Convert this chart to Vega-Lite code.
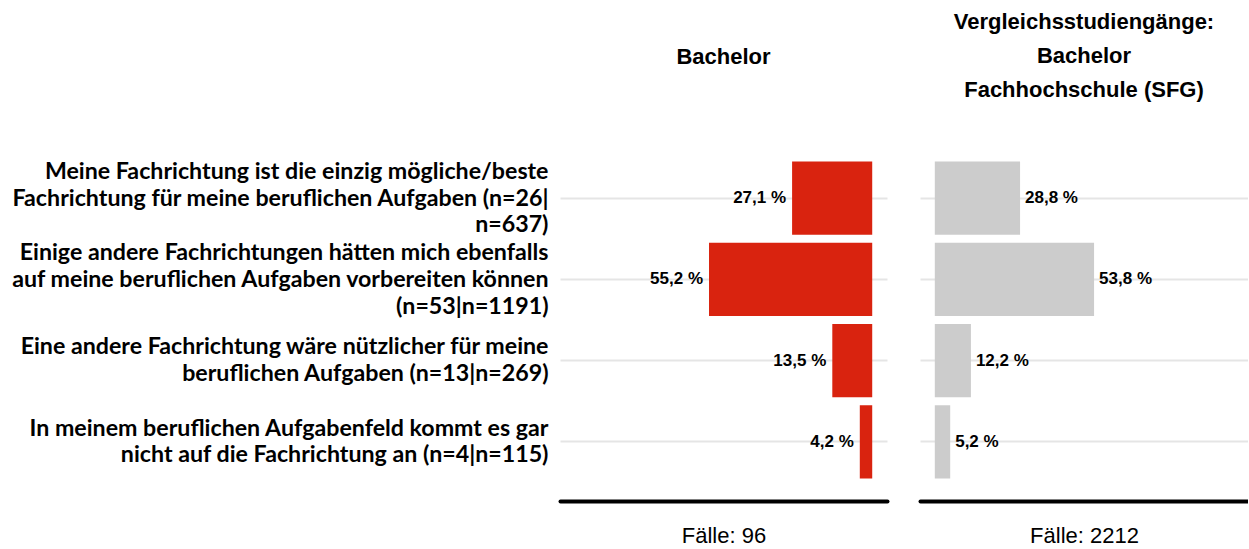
{
  "$schema": "https://vega.github.io/schema/vega-lite/v6.json",
  "padding": {"left": 9, "top": 11, "right": 0, "bottom": 0},
  "background": "white",
  "datasets": {
    "t": [
      {"cat": "Meine Fachrichtung ist die einzig mögliche/beste~Fachrichtung für meine beruflichen Aufgaben (n=26|~n=637)", "group": "Bachelor", "v": 27.1},
      {"cat": "Einige andere Fachrichtungen hätten mich ebenfalls~auf meine beruflichen Aufgaben vorbereiten können~(n=53|n=1191)", "group": "Bachelor", "v": 55.2},
      {"cat": "Eine andere Fachrichtung wäre nützlicher für meine~beruflichen Aufgaben (n=13|n=269)", "group": "Bachelor", "v": 13.5},
      {"cat": "In meinem beruflichen Aufgabenfeld kommt es gar~nicht auf die Fachrichtung an (n=4|n=115)", "group": "Bachelor", "v": 4.2},
      {"cat": "Meine Fachrichtung ist die einzig mögliche/beste~Fachrichtung für meine beruflichen Aufgaben (n=26|~n=637)", "group": "SFG", "v": 28.8},
      {"cat": "Einige andere Fachrichtungen hätten mich ebenfalls~auf meine beruflichen Aufgaben vorbereiten können~(n=53|n=1191)", "group": "SFG", "v": 53.8},
      {"cat": "Eine andere Fachrichtung wäre nützlicher für meine~beruflichen Aufgaben (n=13|n=269)", "group": "SFG", "v": 12.2},
      {"cat": "In meinem beruflichen Aufgabenfeld kommt es gar~nicht auf die Fachrichtung an (n=4|n=115)", "group": "SFG", "v": 5.2}
    ]
  },
  "spacing": 33,
  "hconcat": [
    {
      "width": 327,
      "height": 328,
      "data": {"name": "t"},
      "transform": [
        {"filter": "datum.group === 'Bachelor'"},
        {"calculate": "replace(format(datum.v, '.1f'), '.', ',') + ' %'", "as": "lab"}
      ],
      "title": {"text": "Bachelor", "baseline": "middle", "offset": 77},
      "encoding": {
        "y": {
          "field": "cat", "type": "nominal", "sort": null,
          "scale": {"paddingInner": 0.1, "paddingOuter": 0.067},
          "axis": {
            "title": null, "ticks": false, "domain": false, "grid": true,
            "labelExpr": "split(datum.label, '~')",
            "labelFont": "Lato", "labelFontWeight": "bold", "labelFontSize": 23.2,
            "labelLineHeight": 26.7, "labelLimit": 700, "labelPadding": 12,
            "labelColor": "#000000",
            "labelOffset": {"condition": {"test": "length(split(datum.label, '~')) > 2", "value": -26}, "value": -13.3}
          }
        }
      },
      "layer": [
        {
          "mark": {"type": "bar", "color": "#D9230F"},
          "encoding": {
            "x": {
              "field": "v", "type": "quantitative",
              "scale": {"domain": [-5, 105.6], "reverse": true, "nice": false, "zero": false},
              "axis": {"title": "Fälle: 96", "labels": false, "ticks": false, "grid": false}
            }
          }
        },
        {
          "mark": {"type": "text", "align": "right", "baseline": "middle", "dx": -6, "font": "Liberation Sans", "fontWeight": "bold", "fontSize": 17, "color": "#000000"},
          "encoding": {
            "x": {"field": "v", "type": "quantitative"},
            "text": {"field": "lab"}
          }
        }
      ]
    },
    {
      "width": 328,
      "height": 328,
      "data": {"name": "t"},
      "transform": [
        {"filter": "datum.group === 'SFG'"},
        {"calculate": "replace(format(datum.v, '.1f'), '.', ',') + ' %'", "as": "lab"}
      ],
      "title": {"text": ["Vergleichsstudiengänge:", "Bachelor", "Fachhochschule (SFG)"], "baseline": "middle", "offset": 44, "lineHeight": 34},
      "encoding": {
        "y": {
          "field": "cat", "type": "nominal", "sort": null,
          "scale": {"paddingInner": 0.1, "paddingOuter": 0.067},
          "axis": {"title": null, "ticks": false, "domain": false, "grid": true, "labels": false}
        }
      },
      "layer": [
        {
          "mark": {"type": "bar", "color": "#CCCCCC"},
          "encoding": {
            "x": {
              "field": "v", "type": "quantitative",
              "scale": {"domain": [-5, 105.8], "nice": false, "zero": false},
              "axis": {"title": "Fälle: 2212", "labels": false, "ticks": false, "grid": false}
            }
          }
        },
        {
          "mark": {"type": "text", "align": "left", "baseline": "middle", "dx": 5, "font": "Liberation Sans", "fontWeight": "bold", "fontSize": 17, "color": "#000000"},
          "encoding": {
            "x": {"field": "v", "type": "quantitative"},
            "text": {"field": "lab"}
          }
        }
      ]
    }
  ],
  "resolve": {"scale": {"x": "independent", "y": "independent"}},
  "config": {
    "view": {"stroke": null},
    "axis": {
      "gridColor": "#E5E5E5", "gridWidth": 2
    },
    "axisX": {
      "domainColor": "#000000", "domainWidth": 4, "domainCap": "round", "offset": 17,
      "titleFont": "Liberation Sans", "titleFontWeight": "normal", "titleFontSize": 22,
      "titleColor": "#000000", "titlePadding": 24
    },
    "title": {
      "font": "Liberation Sans", "fontWeight": "bold", "fontSize": 22, "color": "#000000", "anchor": "middle"
    }
  }
}
